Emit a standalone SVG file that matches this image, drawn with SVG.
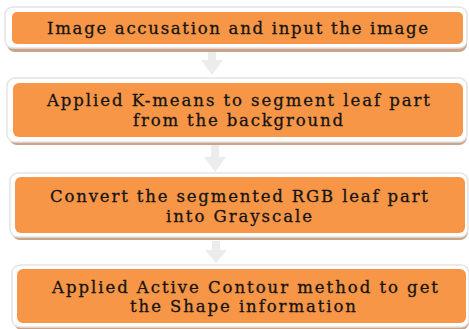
<svg xmlns="http://www.w3.org/2000/svg" width="469" height="329" viewBox="0 0 469 329">
<style>
.frame{fill:#ffffff;stroke:#e4e4e4;stroke-width:1.5}
.shadow{fill:#caa488}
.box{fill:#f79646}
.t{font-family:'DejaVu Serif','Liberation Serif',serif;font-size:16.5px;fill:#141414;stroke:#141414;stroke-width:0.3px}
.arrow{fill:#ececec}
</style>
<rect width="469" height="329" fill="#ffffff"/>
<g id="connectors">
<polygon class="arrow" points="208,52 216,52 216,60 223,60 212,75 201,60 208,60"/>
<polygon class="arrow" points="211,145 219,145 219,157 226,157 215,172 204,157 211,157"/>
<polygon class="arrow" points="212,241 220,241 220,250 227,250 216,263 205,250 212,250"/>
</g>
<g id="node1">
<rect class="shadow" x="7" y="10" width="460" height="42" rx="8"/>
<rect class="frame" x="5" y="7" width="462" height="41" rx="8"/>
<rect class="box" x="12" y="12" width="451" height="32" rx="5"/>
<text class="t" x="47" y="34" textLength="381" lengthAdjust="spacing">Image accusation and input the image</text>
</g>
<g id="node2">
<rect class="shadow" x="9" y="81" width="458" height="64" rx="8"/>
<rect class="frame" x="7" y="78" width="460" height="64" rx="8"/>
<rect class="box" x="13" y="83" width="450" height="54" rx="6"/>
<text class="t" x="47" y="106" textLength="383" lengthAdjust="spacing">Applied K-means to segment leaf part</text>
<text class="t" x="133" y="126" textLength="210" lengthAdjust="spacing">from the background</text>
</g>
<g id="node3">
<rect class="shadow" x="12" y="176" width="456" height="64" rx="8"/>
<rect class="frame" x="10" y="173" width="458" height="64" rx="8"/>
<rect class="box" x="15" y="177" width="450" height="56" rx="6"/>
<text class="t" x="50" y="202" textLength="378" lengthAdjust="spacing">Convert the segmented RGB leaf part</text>
<text class="t" x="166" y="222" textLength="146" lengthAdjust="spacing">into Grayscale</text>
</g>
<g id="node4">
<rect class="shadow" x="14" y="268" width="455" height="62" rx="8"/>
<rect class="frame" x="12" y="265" width="457" height="62" rx="8"/>
<rect class="box" x="17" y="269" width="449" height="54" rx="6"/>
<text class="t" x="52" y="293" textLength="386" lengthAdjust="spacing">Applied Active Contour method to get</text>
<text class="t" x="130" y="312" textLength="226" lengthAdjust="spacing">the Shape information</text>
</g>
</svg>
